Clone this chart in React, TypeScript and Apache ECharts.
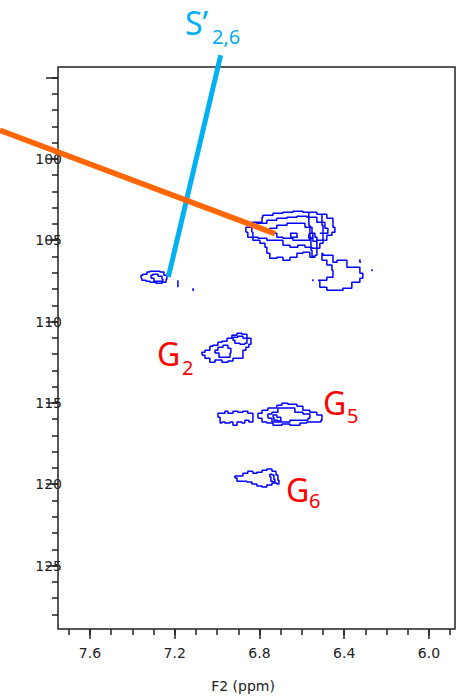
import React, { useEffect, useRef } from "react";
import * as echarts from "echarts";

// Axis ticks and labels (ppm)
const xMajorTicks = [7.6, 7.2, 6.8, 6.4, 6.0];
const xMinorTicks = [7.7, 7.6, 7.5, 7.4, 7.3, 7.2, 7.1, 7.0, 6.9, 6.8, 6.7, 6.6, 6.5, 6.4, 6.3, 6.2, 6.1, 6.0, 5.9];
const yMajorTicks = [95, 100, 105, 110, 115, 120, 125];
const yLabels = [100, 105, 110, 115, 120, 125];
const yMinorTicks = [95, 96, 97, 98, 99, 100, 101, 102, 103, 104, 105, 106, 107, 108, 109, 110, 111, 112, 113, 114, 115, 116, 117, 118, 119, 120, 121, 122, 123, 124, 125, 126, 127, 128];

// Contours [F2 ppm, F1 ppm]
const peakA1 = [[7.359,107.33],[7.350,107.15],[7.331,107.09],[7.317,106.96],[7.293,106.90],[7.270,106.90],[7.251,106.96],[7.237,107.15],[7.241,107.40],[7.260,107.58],[7.289,107.64],[7.317,107.58],[7.336,107.52],[7.355,107.46]];
const peakA2 = [[7.312,107.33],[7.303,107.15],[7.279,107.09],[7.260,107.21],[7.256,107.40],[7.274,107.52],[7.298,107.52]];
const traceA3 = [[7.185,107.46],[7.185,107.89]];
const traceA4 = [[7.114,107.95],[7.109,108.07]];

const peakB1 = [[6.864,104.51],[6.836,104.20],[6.788,103.89],[6.784,103.58],[6.736,103.46],[6.689,103.34],[6.642,103.28],[6.595,103.22],[6.529,103.28],[6.482,103.40],[6.453,103.65],[6.444,104.20],[6.458,104.51],[6.482,104.69],[6.500,105.00],[6.515,105.18],[6.529,105.49],[6.538,105.92],[6.562,106.04],[6.595,105.74],[6.623,105.80],[6.656,106.04],[6.689,106.23],[6.718,106.04],[6.751,106.10],[6.765,105.80],[6.774,105.43],[6.798,105.18],[6.831,105.00],[6.855,104.81]];
const peakB2 = [[6.836,104.51],[6.812,104.20],[6.765,103.95],[6.718,103.77],[6.670,103.65],[6.623,103.58],[6.576,103.52],[6.529,103.58],[6.491,103.89],[6.477,104.26],[6.500,104.57],[6.529,105.00],[6.552,105.49],[6.585,105.43],[6.619,105.31],[6.656,105.43],[6.689,105.31],[6.718,105.00],[6.765,105.00],[6.807,104.88],[6.831,104.81]];
const peakB3 = [[6.751,104.57],[6.718,104.26],[6.670,104.08],[6.623,103.95],[6.585,103.95],[6.552,104.20],[6.548,104.57],[6.562,104.88],[6.595,105.00],[6.642,105.00],[6.689,104.88],[6.718,104.81]];
const peakB4 = [[6.656,104.57],[6.623,104.57],[6.619,104.81],[6.652,104.81]];
const peakB5 = [[6.562,104.63],[6.538,104.57],[6.529,104.81],[6.548,105.06],[6.567,104.88]];
const traceB1 = [[6.567,103.28],[6.562,104.08],[6.557,104.81],[6.552,105.61],[6.543,105.98]];
const traceB2 = [[6.505,103.40],[6.500,104.08],[6.515,104.57]];
const peakB6 = [[6.500,105.80],[6.453,105.92],[6.434,106.35],[6.387,106.23],[6.373,106.66],[6.326,106.66],[6.312,107.03],[6.326,107.33],[6.364,107.58],[6.406,107.95],[6.434,108.07],[6.482,108.07],[6.515,107.89],[6.524,107.46],[6.482,107.46],[6.453,107.27],[6.458,106.84],[6.482,106.53],[6.505,106.23]];
const traceB3 = [[6.269,106.78],[6.269,106.90]];
const traceB4 = [[6.548,107.40],[6.548,107.52]];
const traceB5 = [[6.326,106.17],[6.321,106.35]];

const peakG2a = [[7.071,112.07],[7.057,111.88],[7.034,111.76],[7.020,111.51],[6.996,111.45],[6.977,111.27],[6.953,111.21],[6.930,111.02],[6.906,110.84],[6.883,110.72],[6.859,110.78],[6.840,111.02],[6.850,111.39],[6.864,111.58],[6.878,111.76],[6.878,112.07],[6.892,112.25],[6.925,112.25],[6.949,112.43],[6.977,112.50],[7.010,112.37],[7.034,112.50],[7.057,112.25]];
const peakG2b = [[7.010,111.94],[6.996,111.76],[6.972,111.58],[6.949,111.45],[6.935,111.64],[6.939,111.94],[6.963,112.19],[6.991,112.19]];
const peakG2c = [[6.925,111.15],[6.902,110.96],[6.878,110.90],[6.859,111.02],[6.869,111.33],[6.892,111.39],[6.916,111.33]];

const peakG5a = [[6.996,115.88],[6.986,115.63],[6.963,115.63],[6.949,115.51],[6.925,115.63],[6.902,115.51],[6.878,115.57],[6.855,115.51],[6.831,115.63],[6.831,115.94],[6.850,116.18],[6.869,116.06],[6.883,116.24],[6.906,116.18],[6.925,116.37],[6.939,116.18],[6.963,116.24],[6.977,116.18],[6.986,116.24]];
const peakG5b = [[6.807,115.94],[6.788,115.63],[6.760,115.45],[6.718,115.32],[6.694,115.14],[6.666,115.02],[6.623,115.08],[6.595,115.20],[6.562,115.45],[6.529,115.57],[6.505,115.75],[6.510,116.06],[6.548,116.18],[6.576,116.18],[6.609,116.24],[6.656,116.37],[6.694,116.30],[6.736,116.37],[6.765,116.24],[6.788,116.18]];
const peakG5c = [[6.760,115.94],[6.741,115.69],[6.713,115.57],[6.670,115.32],[6.633,115.32],[6.595,115.57],[6.562,115.69],[6.571,115.94],[6.609,116.06],[6.656,116.06],[6.703,116.18],[6.741,116.18]];
const peakG5d = [[6.736,115.88],[6.718,115.75],[6.699,115.88],[6.713,116.12],[6.732,116.06]];

const peakG6a = [[6.916,119.62],[6.902,119.50],[6.878,119.50],[6.855,119.32],[6.831,119.20],[6.812,119.32],[6.788,119.26],[6.765,119.14],[6.741,119.07],[6.722,119.20],[6.713,119.44],[6.708,119.75],[6.718,119.99],[6.741,119.93],[6.765,120.05],[6.788,120.17],[6.812,120.11],[6.836,119.99],[6.859,119.87],[6.883,119.81],[6.906,119.81]];
const peakG6b = [[6.751,119.56],[6.741,119.38],[6.732,119.44],[6.727,119.69],[6.736,119.87],[6.746,119.81]];

const closedContours = [peakA1, peakA2, peakB1, peakB2, peakB3, peakB4, peakB5, peakB6, peakG2a, peakG2b, peakG2c, peakG5a, peakG5b, peakG5c, peakG5d, peakG6a, peakG6b];
const openTraces = [traceA3, traceA4, traceB1, traceB2, traceB3, traceB4, traceB5];

// Annotation lines [F2 ppm, F1 ppm]
const orangeLine = [[8.025, 98.24], [6.727, 104.59]];
const cyanLine = [[6.983, 93.63], [7.230, 107.26]];

const AXIS_FONT = "'DejaVu Sans', sans-serif";
const LABEL_FONT = "'Noto Sans', sans-serif";

export default function App() {
  const ref = useRef<HTMLDivElement>(null);
  useEffect(() => {
    if (!ref.current) return;
    const chart = echarts.init(ref.current, null, { renderer: "svg" });
    const xBase = { type: "value", min: 5.877, max: 7.751, inverse: true, position: "bottom", splitLine: { show: false }, axisLine: { show: false, onZero: false } };
    const yBase = { type: "value", min: 94.35, max: 128.9, inverse: true, position: "left", splitLine: { show: false }, axisLine: { show: false, onZero: false } };
    const contourSeries = [
      ...closedContours.map((c) => ({ data: [...c, c[0]] })),
      ...openTraces.map((c) => ({ data: c })),
    ].map((s) => ({
      type: "line",
      data: s.data,
      symbol: "none",
      step: "start",
      silent: true,
      z: 2,
      lineStyle: { color: "#0000ff", width: 1.5 },
    }));
    const texts = [
      { type: "text", x: 185, y: 22, style: { text: "S\u2019", font: `32px ${LABEL_FONT}`, fill: "#00B0F0", verticalAlign: "middle" } },
      { type: "text", x: 212, y: 36, style: { text: "2,6", font: `20px ${LABEL_FONT}`, fill: "#00B0F0", verticalAlign: "middle" } },
      { type: "text", x: 157, y: 353, style: { text: "G", font: `32px ${LABEL_FONT}`, fill: "#FF0000", verticalAlign: "middle" } },
      { type: "text", x: 182, y: 367, style: { text: "2", font: `20px ${LABEL_FONT}`, fill: "#FF0000", verticalAlign: "middle" } },
      { type: "text", x: 323, y: 402, style: { text: "G", font: `32px ${LABEL_FONT}`, fill: "#FF0000", verticalAlign: "middle" } },
      { type: "text", x: 347, y: 415, style: { text: "5", font: `20px ${LABEL_FONT}`, fill: "#FF0000", verticalAlign: "middle" } },
      { type: "text", x: 286, y: 489, style: { text: "G", font: `32px ${LABEL_FONT}`, fill: "#FF0000", verticalAlign: "middle" } },
      { type: "text", x: 309, y: 500, style: { text: "6", font: `20px ${LABEL_FONT}`, fill: "#FF0000", verticalAlign: "middle" } },
      { type: "text", x: 243, y: 686, style: { text: "F2 (ppm)", font: `14px ${AXIS_FONT}`, fill: "#222", align: "center", verticalAlign: "middle" } },
    ];
    chart.setOption({
      animation: false,
      grid: { left: 58, right: 2, top: 67, bottom: 68, show: true, borderColor: "#222", borderWidth: 1.5, backgroundColor: "transparent" },
      xAxis: [
        {
          ...xBase,
          axisTick: { show: true, inside: false, length: 10, customValues: xMajorTicks, lineStyle: { color: "#222", width: 1.5 } },
          axisLabel: { show: true, customValues: xMajorTicks, formatter: (v: number) => v.toFixed(1), fontSize: 14, fontFamily: AXIS_FONT, color: "#222", margin: 17 },
        },
        {
          ...xBase,
          axisTick: { show: true, inside: false, length: 6, customValues: xMinorTicks, lineStyle: { color: "#222", width: 1.5 } },
          axisLabel: { show: false },
        },
      ],
      yAxis: [
        {
          ...yBase,
          axisTick: { show: true, inside: false, length: 12, customValues: yMajorTicks, lineStyle: { color: "#222", width: 1.5 } },
          axisLabel: { show: true, customValues: yLabels, formatter: (v: number) => String(v), fontSize: 14, fontFamily: AXIS_FONT, color: "#222", margin: -4 },
        },
        {
          ...yBase,
          axisTick: { show: true, inside: false, length: 6, customValues: yMinorTicks, lineStyle: { color: "#222", width: 1.5 } },
          axisLabel: { show: false },
        },
      ],
      series: contourSeries,
      graphic: texts,
    });
    // annotation lines, placed through the chart's own axes
    const toPx = (p: number[]) => chart.convertToPixel({ xAxisIndex: 0, yAxisIndex: 0 }, p) as number[];
    const seg = (pts: number[][], color: string, width: number, z: number) => {
      const a = toPx(pts[0]);
      const b = toPx(pts[1]);
      return { type: "line", z, shape: { x1: a[0], y1: a[1], x2: b[0], y2: b[1] }, style: { stroke: color, lineWidth: width, lineCap: "butt" }, silent: true };
    };
    chart.setOption({
      graphic: [
        ...texts,
        seg(cyanLine, "#00B0F0", 5, 10),
        seg(orangeLine, "#FF6600", 5.5, 11),
      ],
    });
    return () => chart.dispose();
  }, []);
  return <div ref={ref} style={{ position: "absolute", left: 0, top: 0, width: 457, height: 697 }} />;
}
